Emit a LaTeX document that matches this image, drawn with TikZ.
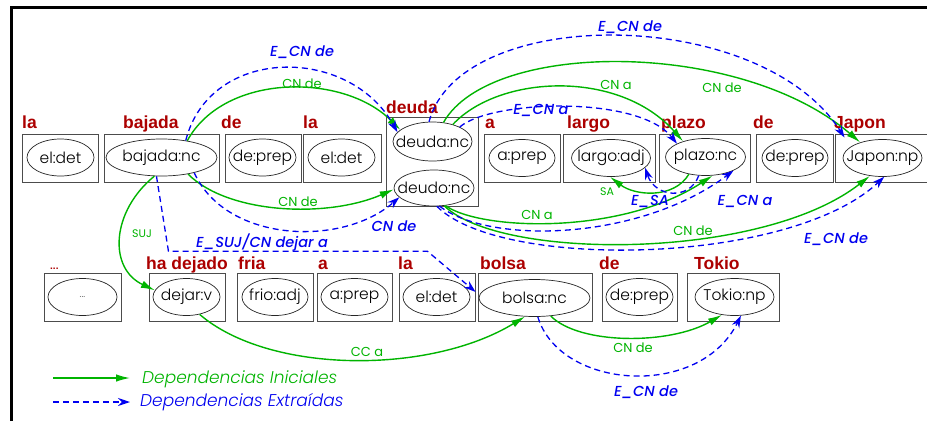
\documentclass[tikz,border=0pt]{standalone}
\usepackage{fontspec}
\usetikzlibrary{arrows.meta,shapes.geometric}
\newfontfamily\labfont{Liberation Sans}
\newfontfamily\gothic{Poppins Light}[ItalicFont={Poppins Light Italic}]
\newfontfamily\gothicmed{Poppins Medium}[ItalicFont={Poppins Medium Italic}]
\newfontfamily\gothicreg{Poppins}
% lexeme text takes no width, so the ellipse keeps its given size
\newcommand\lx[1]{\makebox[0pt][c]{#1}}
\definecolor{wordred}{RGB}{172,0,0}
\definecolor{depgreen}{RGB}{0,180,0}
\definecolor{depblue}{RGB}{0,0,240}
\tikzset{
  wordbox/.style={draw=black!70, line width=1pt, minimum height=48pt, inner sep=0pt},
  lexeme/.style={ellipse, draw=black!85, line width=0.7pt, minimum height=37pt, inner sep=0pt,
    font=\gothic\fontsize{15.5}{15.5}\selectfont},
  word/.style={anchor=base west, text=wordred, inner sep=0pt,
    font=\labfont\bfseries\fontsize{17.5}{17.5}\selectfont},
  initial/.style={draw=depgreen, line width=1.4pt, -{Latex[length=14pt,width=7.5pt]}},
  extracted/.style={draw=depblue, line width=1.3pt, dash pattern=on 6pt off 4pt,
    -{Stealth[length=12pt,width=8pt]}},
  glab/.style={text=depgreen, inner sep=0pt, font=\gothicreg\fontsize{13}{13}\selectfont},
  gsmall/.style={glab, font=\gothicreg\fontsize{11}{11}\selectfont},
  blab/.style={text=depblue, inner sep=0pt, font=\gothicmed\itshape\fontsize{14.5}{14.5}\selectfont},
  legendtext/.style={anchor=west, inner sep=0pt, font=\gothic\itshape\fontsize{17}{17}\selectfont},
}
\begin{document}
\begin{tikzpicture}[x=1pt,y=-1pt]
\useasboundingbox (0,0) rectangle (927,421);
\fill[white] (0,0) rectangle (927,421);
% frame
\draw[line width=3pt] (11.3,421) -- (11.3,7.7) -- (928,7.7);

% ---------- upper sentence ----------
\node[wordbox, minimum width=76pt] (T1) at (60,158) {};
\node[wordbox, minimum width=115pt] (T2) at (161.5,158) {};
\node[wordbox, minimum width=76pt] (T3) at (263,158) {};
\node[wordbox, minimum width=78pt] (T4) at (342,158) {};
\node[wordbox, minimum width=92pt, minimum height=89pt] (T5) at (432,161.5) {};
\node[wordbox, minimum width=76pt] (T6) at (522,158) {};
\node[wordbox, minimum width=92pt] (T7) at (609,158) {};
\node[wordbox, minimum width=91pt] (T8) at (704.5,158) {};
\node[wordbox, minimum width=77pt] (T9) at (794.5,158) {};
\node[wordbox, minimum width=92pt] (T10) at (881,158) {};

\node[lexeme, minimum width=67pt] (eldet1) at (60.5,157.5) {\lx{el:det}};
\node[lexeme, minimum width=111pt] (bajada) at (161.5,157.5) {\lx{bajada:nc}};
\node[lexeme, minimum width=67pt] (deprep1) at (262.5,157.5) {\lx{de:prep}};
\node[lexeme, minimum width=67pt] (eldet2) at (341.5,157.5) {\lx{el:det}};
\node[lexeme, minimum width=79pt, minimum height=39pt] (deuda) at (432.5,141.5) {\lx{deuda:nc}};
\node[lexeme, minimum width=80pt, minimum height=36pt] (deudo) at (434,188) {\lx{deudo:nc}};
\node[lexeme, minimum width=66pt] (aprep1) at (522,158) {\lx{a:prep}};
\node[lexeme, minimum width=79pt] (largo) at (611,158) {\lx{largo:adj}};
\node[lexeme, minimum width=80pt] (plazo) at (705.5,157) {\lx{plazo:nc}};
\node[lexeme, minimum width=66pt] (deprep2) at (795,158) {\lx{de:prep}};
\node[lexeme, minimum width=79pt] (japon) at (882.5,158) {\lx{Japon:np}};

\node[word] (w1) at (22,128) {la};
\node[word] (w2) at (123,128) {bajada};
\node[word] (w3) at (221,128) {de};
\node[word] (w4) at (303,128) {la};
\node[word] (w5) at (386,113) {deuda};
\node[word] (w6) at (485,128) {a};
\node[word] (w7) at (567,128) {largo};
\node[word] (w8) at (661,128) {plazo};
\node[word] (w9) at (753,128) {de};
\node[word] (w10) at (834,128) {Japon};

% ---------- lower sentence ----------
\node[wordbox, minimum width=77pt] (L1) at (82.5,297) {};
\node[wordbox, minimum width=76pt] (L2) at (187,297) {};
\node[wordbox, minimum width=76pt] (L3) at (275,297) {};
\node[wordbox, minimum width=75pt] (L4) at (354.5,297) {};
\node[wordbox, minimum width=76pt] (L5) at (437,297) {};
\node[wordbox, minimum width=114pt] (L6) at (535,297) {};
\node[wordbox, minimum width=75pt] (L7) at (639.5,297) {};
\node[wordbox, minimum width=92pt] (L8) at (733,297) {};

\node[lexeme, minimum width=69pt, font=\gothicreg\fontsize{9}{9}\selectfont, text=black!60] (dots) at (82.5,297) {\lx{...}};
\node[lexeme, minimum width=67pt] (dejar) at (186.5,297) {\lx{dejar:v}};
\node[lexeme, minimum width=66pt] (frio) at (275,297) {\lx{frio:adj}};
\node[lexeme, minimum width=67pt] (aprep2) at (354.5,297) {\lx{a:prep}};
\node[lexeme, minimum width=67pt] (eldet3) at (436.5,297) {\lx{el:det}};
\node[lexeme, minimum width=111pt] (bolsa) at (534.5,298) {\lx{bolsa:nc}};
\node[lexeme, minimum width=67pt] (deprep3) at (639.5,297) {\lx{de:prep}};
\node[lexeme, minimum width=79pt] (tokio) at (734.5,297) {\lx{Tokio:np}};

\node[word, font=\labfont\bfseries\fontsize{10}{10}\selectfont] (v1) at (50,269) {...};
\node[word] (v2) at (146,269) {ha dejado};
\node[word] (v3) at (238,269) {fria};
\node[word] (v4) at (318,269) {a};
\node[word] (v5) at (398,269) {la};
\node[word] (v6) at (480,269) {bolsa};
\node[word] (v7) at (599,269) {de};
\node[word] (v8) at (694,269) {Tokio};

% ---------- initial dependencies ----------
\draw[initial] (bajada.33) .. controls +(37,-68) and +(-57,-57) .. (deuda.160);
\draw[initial] (bajada.328) .. controls +(40,40) and +(-67,29) .. (deudo.182);
\draw[initial] (bajada.249) .. controls +(-43,35) and +(-47,-22) .. (dejar.168);
\draw[initial] (deuda.60) .. controls +(47,-83) and +(-120,-103) .. (japon.145);
\draw[initial] (deuda.40) .. controls +(47,-50) and +(-64,-72) .. (plazo.145);
\draw[initial] (deudo.303) .. controls +(35,25) and +(-92,60) .. (plazo.291);
\draw[initial] (deudo.300) .. controls +(56,55) and +(-109,85) .. (japon.235);
\draw[initial] (plazo.226) .. controls +(-15,25) and +(25,19) .. (largo.267);
\draw[initial] (dejar.307) .. controls +(70,60) and +(-95,58) .. (bolsa.243);
\draw[initial] (bolsa.312) .. controls +(29,29) and +(-52,30) .. (tokio.235);

% ---------- extracted dependencies ----------
\draw[extracted] (bajada.35) .. controls +(24,-95) and +(-48,-87) .. (deuda.165);
\draw[extracted] (bajada.335) .. controls +(32,70) and +(-57,50) .. (deudo.195);
\draw[extracted] (bajada.255) -- ++(12,75) -- ++(259,0) -- ([shift={(-3,-6)}]bolsa.west);
\draw[extracted] (deuda.100) .. controls +(31,-117) and +(-85,-133) .. ([shift={(10,4)}]T10.north west);
\draw[extracted] (deuda.28) .. controls +(31,-27) and +(-38,-49) .. (plazo.155);
\draw[extracted] (deudo.287) .. controls +(51,39) and +(-93,70) .. (plazo.334);
\draw[extracted] (deudo.279) .. controls +(63,64) and +(-94,89) .. (japon.275);
\draw[extracted] (plazo.250) .. controls +(-9,25) and +(10,30) .. (largo.344);
\draw[extracted] (bolsa.280) .. controls +(22,73) and +(-41,84) .. (tokio.289);

% ---------- dependency labels ----------
\node[blab] (lb1) at (302,52) {E\_CN de};
\node[glab] (lb2) at (302,84) {CN de};
\node[glab] (lb3) at (298,202) {CN de};
\node[blab] (lb4) at (394,226) {CN de};
\node[gsmall] (lb5) at (142,234) {SUJ};
\node[blab] (lb6) at (262,243) {E\_SUJ/CN dejar a};
\node[blab] (lb7) at (630,27) {E\_CN de};
\node[glab] (lb8) at (616,85) {CN a};
\node[glab] (lb9) at (722,88) {CN de};
\node[blab] (lb10) at (541,110) {E\_CN a};
\node[gsmall] (lb11) at (607,192) {SA};
\node[blab] (lb12) at (650,201) {E\_SA};
\node[blab] (lb13) at (745,201) {E\_CN a};
\node[glab] (lb14) at (537,215) {CN a};
\node[glab] (lb15) at (693,231) {CN de};
\node[blab] (lb16) at (836,239) {E\_CN de};
\node[glab] (lb17) at (367,352) {CC a};
\node[glab] (lb18) at (633,348) {CN de};
\node[blab] (lb19) at (646,392) {E\_CN de};

% ---------- legend ----------
\coordinate (k1) at (53,378);
\coordinate (k2) at (130,378);
\coordinate (k3) at (53,402);
\coordinate (k4) at (130,402);
\draw[initial] (k1) -- (k2);
\draw[extracted] (k3) -- (k4);
\node[legendtext, text=depgreen] (kt1) at (142,379) {Dependencias Iniciales};
\node[legendtext, text=depblue] (kt2) at (140,402) {Dependencias Extraídas};
\end{tikzpicture}
\end{document}
